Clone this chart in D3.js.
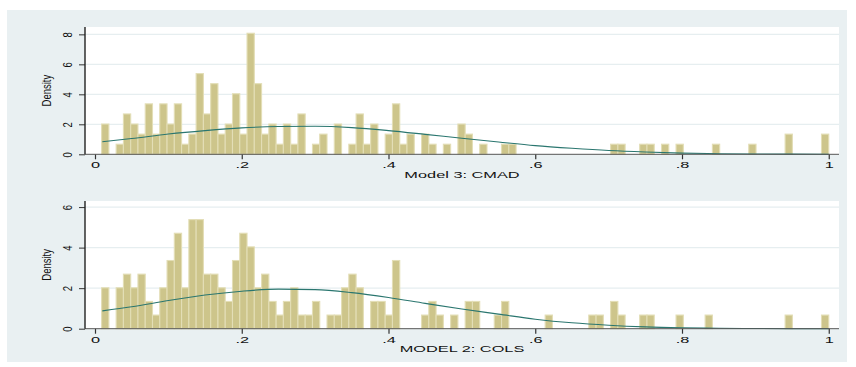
<!DOCTYPE html>
<html>
<head>
<meta charset="utf-8">
<script src="https://cdn.jsdelivr.net/npm/d3@7"></script>
<style>
  body { margin: 0; background: #fff; }
  text { font-family: "Liberation Sans", Arial, sans-serif; fill: #111; }
</style>
</head>
<body>
<svg width="856" height="367"></svg>
<script>
// histogram bins: 100 bins between the min and max of the data
var binStart = 0.009, binEnd = 1.0;

// counts per bin (150 obs each)
var cmadCounts = [
  3,0,1,4,3,2,5,2,5,3,
  5,1,2,8,4,7,2,3,6,2,
  12,7,2,3,1,3,1,4,0,1,
  2,0,3,0,1,4,1,3,0,2,
  5,1,2,0,2,1,0,1,0,3,
  2,0,1,0,0,1,1,0,0,0,
  0,0,0,0,0,0,0,0,0,0,
  1,1,0,0,1,1,0,1,0,1,
  0,0,0,0,1,0,0,0,0,1,
  0,0,0,0,2,0,0,0,0,2];
var colsCounts = [
  3,0,3,4,3,4,2,1,3,5,
  7,3,8,8,4,4,3,2,5,7,
  6,3,4,2,1,2,3,1,1,2,
  0,1,1,3,4,3,0,2,2,1,
  5,0,0,0,1,2,1,0,1,0,
  2,2,0,0,1,2,0,0,0,0,
  0,1,0,0,0,0,0,1,1,0,
  2,1,0,0,1,1,0,0,0,1,
  0,0,0,1,0,0,0,0,0,0,
  0,0,0,0,1,0,0,0,0,1];

// normal density overlay
var curveX    = [0.01,0.05,0.1,0.15,0.2,0.25,0.3,0.35,0.4,0.45,0.5,0.55,0.6,0.65,0.7,0.75,0.8,0.85,0.9,0.95,1.0];
var cmadCurve = [0.84,1.05,1.35,1.58,1.76,1.85,1.87,1.78,1.58,1.33,1.07,0.82,0.58,0.40,0.25,0.15,0.08,0.04,0.02,0.01,0.0];
var colsCurve = [0.88,1.08,1.39,1.66,1.85,1.95,1.93,1.78,1.54,1.25,0.97,0.72,0.47,0.29,0.17,0.09,0.045,0.02,0.01,0.0,0.0];

var xTicks = [0, .2, .4, .6, .8, 1];
var xTickLabels = ["0", ".2", ".4", ".6", ".8", "1"];
var cmadYTicks = [0, 2, 4, 6, 8];
var colsYTicks = [0, 2, 4, 6];

var svg = d3.select("svg");
var sx = 1.72;  // the picture is stretched sideways, text too

svg.append("rect")
    .attr("x", 7).attr("y", 10)
    .attr("width", 840).attr("height", 352)
    .attr("fill", "#e9f0f2");

var x = d3.scaleLinear().domain([0, 1]).range([95, 828.75]);

var panels = [
  {counts: cmadCounts, curve: cmadCurve, ticks: cmadYTicks, title: "Model 3: CMAD", top: 27, bottom: 154.3, ymax: 8.49},
  {counts: colsCounts, curve: colsCurve, ticks: colsYTicks, title: "MODEL 2: COLS", top: 201, bottom: 328.7, ymax: 6.3}
];

panels.forEach(function (p) {
  var y = d3.scaleLinear().domain([0, p.ymax]).range([p.bottom, p.top]);
  var w = (binEnd - binStart) / p.counts.length;
  var n = d3.sum(p.counts);
  var bins = p.counts.map(function (c, i) {
    return {lo: binStart + i * w, hi: binStart + (i + 1) * w, dens: c / (n * w)};
  }).filter(function (b) { return b.dens > 0; });
  var g = svg.append("g");

  g.append("rect")
      .attr("x", 85).attr("y", p.top)
      .attr("width", 839 - 85).attr("height", p.bottom - p.top)
      .attr("fill", "#fff");

  // grid
  g.selectAll(".grid")
      .data(p.ticks.filter(function (d) { return d > 0; }))
      .enter().append("line")
      .attr("x1", 85).attr("x2", 839)
      .attr("y1", function (d) { return y(d); })
      .attr("y2", function (d) { return y(d); })
      .attr("stroke", "#e6eef0")
      .attr("stroke-width", 1.2);

  // bars
  g.selectAll(".bar")
      .data(bins)
      .enter().append("rect")
      .attr("x", function (d) { return x(d.lo); })
      .attr("width", function (d) { return x(d.hi) - x(d.lo); })
      .attr("y", function (d) { return y(d.dens); })
      .attr("height", function (d) { return y(0) - y(d.dens); })
      .attr("fill", "#cdc58b")
      .attr("stroke", "#e3deb6")
      .attr("stroke-width", 1.1);

  // normal curve
  var line = d3.line()
      .x(function (d, i) { return x(curveX[i]); })
      .y(function (d) { return y(d); })
      .curve(d3.curveMonotoneX);
  g.append("path")
      .datum(p.curve)
      .attr("d", line)
      .attr("fill", "none")
      .attr("stroke", "#2a766f")
      .attr("stroke-width", 1.1);

  // x axis
  var xa = g.append("g")
      .attr("transform", "translate(0," + p.bottom + ")")
      .call(d3.axisBottom(x).tickValues(xTicks)
          .tickFormat(function (d, i) { return xTickLabels[i]; })
          .tickSize(5).tickSizeOuter(0).tickPadding(3));
  xa.select(".domain").remove();
  xa.selectAll(".tick line").attr("stroke", "#333").attr("stroke-width", 1.2);
  xa.selectAll(".tick text")
      .attr("y", 0).attr("dy", 14)
      .attr("font-size", 9.5)
      .attr("transform", "scale(" + sx + ",1)")
      .attr("fill", "#111");
  g.append("line")
      .attr("x1", 85).attr("x2", 839)
      .attr("y1", p.bottom).attr("y2", p.bottom)
      .attr("stroke", "#555").attr("stroke-width", 1);

  // y axis
  var ya = g.append("g")
      .attr("transform", "translate(85,0)")
      .call(d3.axisLeft(y).tickValues(p.ticks).tickFormat(d3.format("d"))
          .tickSize(6).tickSizeOuter(0));
  ya.select(".domain").remove();
  ya.selectAll(".tick line").attr("stroke", "#333");
  ya.selectAll(".tick text")
      .attr("x", 0).attr("dy", null)
      .attr("text-anchor", "middle")
      .attr("font-size", 9.5)
      .attr("fill", "#111")
      .attr("transform", "translate(-13,0) scale(1.35,1) rotate(-90)");
  g.append("line")
      .attr("x1", 85).attr("x2", 85)
      .attr("y1", p.top).attr("y2", p.bottom)
      .attr("stroke", "#222").attr("stroke-width", 1.4);

  // titles
  g.append("text")
      .attr("transform", "translate(462," + (p.bottom + 23.5) + ") scale(" + sx + ",1)")
      .attr("text-anchor", "middle")
      .attr("font-size", 9.5)
      .text(p.title);
  g.append("text")
      .attr("transform", "translate(50.5," + ((p.top + p.bottom) / 2) + ") scale(1.35,1) rotate(-90)")
      .attr("text-anchor", "middle")
      .attr("font-size", 9.5)
      .text("Density");
});
</script>
</body>
</html>
